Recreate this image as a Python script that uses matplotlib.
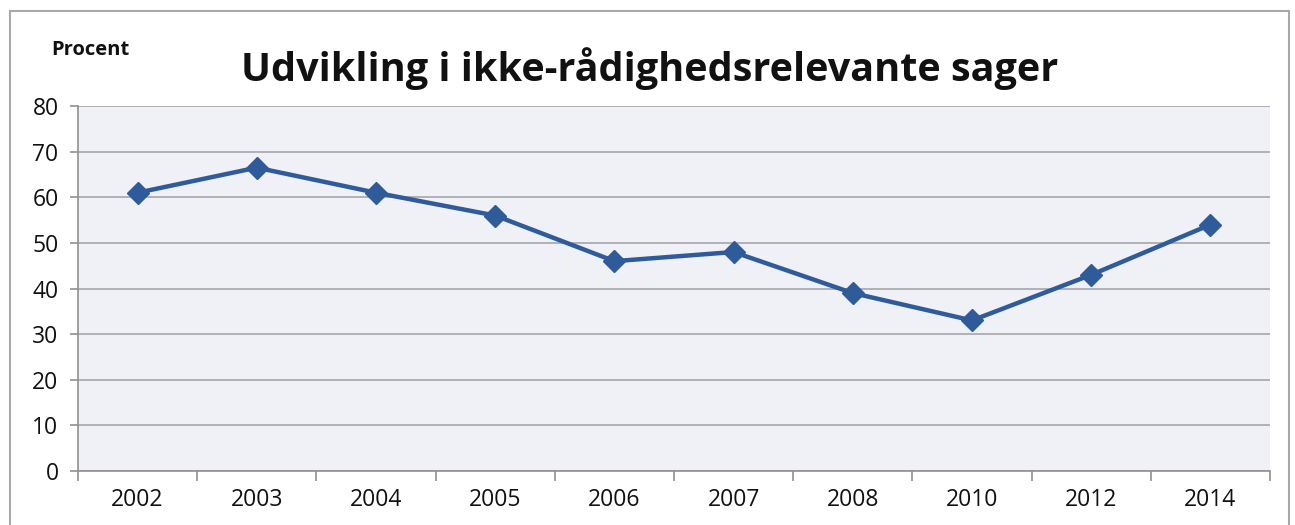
import matplotlib.pyplot as plt
from matplotlib.patches import Rectangle
import numpy as np

# Data
years = ['2002', '2003', '2004', '2005', '2006', '2007', '2008', '2010', '2012', '2014']
procent = [61, 66.5, 61, 56, 46, 48, 39, 33, 43, 54]
y_ticks = [0, 10, 20, 30, 40, 50, 60, 70, 80]

plt.rcParams['font.family'] = ['Open Sans', 'DejaVu Sans']

fig = plt.figure(figsize=(12.95, 5.25), dpi=100)
ax = fig.add_axes([0.0602, 0.1029, 0.9205, 0.6951])

x = np.arange(len(years))
ax.plot(x, procent, color='#2f5b9a', linewidth=3.2, marker='D', markersize=11,
        markerfacecolor='#2f5b9a', markeredgecolor='#2f5b9a', zorder=3)

ax.set_facecolor('#f0f0f7')
ax.set_xlim(-0.5, len(years) - 0.5)
ax.set_ylim(0, 80)
ax.set_yticks(y_ticks)
ax.set_yticklabels([str(v) for v in y_ticks], fontsize=16.5, color='#111111')
ax.yaxis.grid(True, color='#ababb2', linewidth=1.3)
ax.set_axisbelow(True)

ax.set_xticks(x)
ax.set_xticklabels(years, fontsize=16.5, color='#111111')
ax.tick_params(axis='x', which='major', length=0, pad=12)
ax.set_xticks(np.arange(-0.5, len(years)), minor=True)
ax.tick_params(axis='x', which='minor', length=7, color='#909090', width=1.2)
ax.tick_params(axis='y', length=6, color='#909090', width=1.2, pad=8)

for side in ['top', 'right']:
    ax.spines[side].set_visible(False)
ax.spines['left'].set_color('#909090')
ax.spines['bottom'].set_color('#909090')
ax.spines['left'].set_linewidth(1.2)
ax.spines['bottom'].set_linewidth(1.2)

fig.text(0.502, 0.87, 'Udvikling i ikke-rådighedsrelevante sager', ha='center', va='center',
         fontsize=28.5, fontweight='bold', color='#111111')
fig.text(0.07, 0.905, 'Procent', ha='center', va='center', fontsize=14.5, fontweight='bold',
         color='#111111')

fig.patches.append(Rectangle((0.008, -0.05), 0.987, 1.03, transform=fig.transFigure,
                             fill=False, edgecolor='#a8a8a8', linewidth=1.5))

fig.savefig('out.png', dpi=100)
